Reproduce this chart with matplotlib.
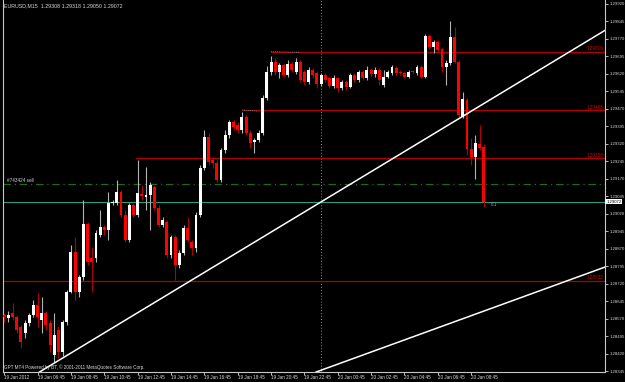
import numpy as np
import matplotlib.pyplot as plt

plt.rcParams['font.family'] = ['Liberation Sans', 'DejaVu Sans']

# EURUSD M15 candles, 19 Jan 04:45 -> 20 Jan 09:30
opens = [1.28586, 1.28573, 1.28594, 1.28577, 1.28534, 1.28508, 1.28551, 1.28586, 1.28629, 1.28564,
         1.28594, 1.28551, 1.28414, 1.28521, 1.28427, 1.28556, 1.28684, 1.28856, 1.28684, 1.28749,
         1.28976, 1.28830, 1.28830, 1.28929, 1.28963, 1.28950, 1.29066, 1.29066, 1.29113, 1.29015,
         1.28907, 1.29058, 1.29015, 1.29105, 1.29092, 1.29100, 1.29135, 1.29045, 1.28972, 1.28985,
         1.28843, 1.28920, 1.28800, 1.28852, 1.28959, 1.28899, 1.28873, 1.29015, 1.29216, 1.29349,
         1.29251, 1.29238, 1.29165, 1.29294, 1.29358, 1.29414, 1.29401, 1.29379, 1.29435, 1.29366,
         1.29328, 1.29336, 1.29366, 1.29517, 1.29628, 1.29671, 1.29628, 1.29658, 1.29615, 1.29662,
         1.29628, 1.29671, 1.29628, 1.29585, 1.29637, 1.29624, 1.29577, 1.29615, 1.29602, 1.29568,
         1.29602, 1.29559, 1.29585, 1.29564, 1.29615, 1.29594, 1.29628, 1.29602, 1.29637, 1.29620,
         1.29637, 1.29572, 1.29607, 1.29624, 1.29645, 1.29628, 1.29624, 1.29607, 1.29632, 1.29624,
         1.29650, 1.29607, 1.29783, 1.29735, 1.29757, 1.29727, 1.29650, 1.29667, 1.29778, 1.29671,
         1.29435, 1.29508, 1.29298, 1.29264, 1.29319, 1.29308]
highs = [1.28594, 1.28603, 1.28637, 1.28586, 1.28543, 1.28564, 1.28594, 1.28650, 1.28680, 1.28663,
         1.28603, 1.28564, 1.28594, 1.28539, 1.28564, 1.28693, 1.28886, 1.28920, 1.28757, 1.29079,
         1.28985, 1.28877, 1.28950, 1.29036, 1.28972, 1.29113, 1.29079, 1.29165, 1.29122, 1.29036,
         1.29066, 1.29066, 1.29251, 1.29143, 1.29221, 1.29156, 1.29143, 1.29058, 1.29006, 1.28993,
         1.28929, 1.28929, 1.28865, 1.28972, 1.29006, 1.28907, 1.29028, 1.29229, 1.29379, 1.29366,
         1.29264, 1.29251, 1.29302, 1.29379, 1.29422, 1.29422, 1.29414, 1.29457, 1.29444, 1.29379,
         1.29345, 1.29379, 1.29529, 1.29654, 1.29697, 1.29688, 1.29667, 1.29667, 1.29680, 1.29671,
         1.29688, 1.29680, 1.29637, 1.29650, 1.29645, 1.29632, 1.29624, 1.29624, 1.29607, 1.29615,
         1.29607, 1.29594, 1.29594, 1.29624, 1.29624, 1.29637, 1.29637, 1.29654, 1.29645, 1.29650,
         1.29645, 1.29637, 1.29637, 1.29658, 1.29654, 1.29637, 1.29632, 1.29637, 1.29637, 1.29658,
         1.29658, 1.29791, 1.29791, 1.29765, 1.29765, 1.29735, 1.29680, 1.29847, 1.29821, 1.29680,
         1.29542, 1.29517, 1.29345, 1.29358, 1.29401, 1.29318]
lows = [1.28556, 1.28556, 1.28564, 1.28508, 1.28444, 1.28487, 1.28539, 1.28577, 1.28534, 1.28508,
        1.28521, 1.28427, 1.28384, 1.28401, 1.28410, 1.28543, 1.28680, 1.28650, 1.28663, 1.28736,
        1.28800, 1.28684, 1.28813, 1.28920, 1.28929, 1.28907, 1.29058, 1.29058, 1.29006, 1.28899,
        1.28899, 1.29006, 1.29006, 1.29079, 1.29036, 1.28950, 1.29036, 1.28963, 1.28963, 1.28830,
        1.28830, 1.28736, 1.28787, 1.28843, 1.28899, 1.28843, 1.28856, 1.29006, 1.29208, 1.29229,
        1.29216, 1.29156, 1.29156, 1.29281, 1.29345, 1.29379, 1.29366, 1.29366, 1.29358, 1.29302,
        1.29281, 1.29328, 1.29358, 1.29508, 1.29615, 1.29615, 1.29602, 1.29607, 1.29607, 1.29628,
        1.29620, 1.29585, 1.29572, 1.29577, 1.29602, 1.29559, 1.29568, 1.29585, 1.29559, 1.29559,
        1.29542, 1.29551, 1.29551, 1.29559, 1.29585, 1.29585, 1.29594, 1.29594, 1.29607, 1.29607,
        1.29572, 1.29564, 1.29602, 1.29615, 1.29615, 1.29615, 1.29602, 1.29602, 1.29620, 1.29615,
        1.29602, 1.29602, 1.29727, 1.29710, 1.29714, 1.29628, 1.29572, 1.29658, 1.29667, 1.29435,
        1.29431, 1.29272, 1.29229, 1.29169, 1.29294, 1.29050]
closes = [1.28577, 1.28586, 1.28577, 1.28521, 1.28470, 1.28551, 1.28586, 1.28629, 1.28577, 1.28594,
          1.28543, 1.28457, 1.28500, 1.28427, 1.28556, 1.28684, 1.28856, 1.28684, 1.28749, 1.28976,
          1.28813, 1.28813, 1.28937, 1.28963, 1.28950, 1.29066, 1.29070, 1.29113, 1.29015, 1.28907,
          1.29058, 1.29015, 1.29109, 1.29096, 1.29100, 1.29143, 1.29045, 1.28972, 1.28993, 1.28843,
          1.28920, 1.28800, 1.28852, 1.28959, 1.28907, 1.28873, 1.29015, 1.29216, 1.29349, 1.29242,
          1.29238, 1.29165, 1.29294, 1.29358, 1.29414, 1.29392, 1.29379, 1.29435, 1.29366, 1.29324,
          1.29336, 1.29366, 1.29517, 1.29628, 1.29671, 1.29628, 1.29658, 1.29615, 1.29662, 1.29637,
          1.29671, 1.29594, 1.29585, 1.29637, 1.29615, 1.29577, 1.29615, 1.29594, 1.29568, 1.29602,
          1.29559, 1.29585, 1.29564, 1.29615, 1.29594, 1.29628, 1.29602, 1.29637, 1.29620, 1.29637,
          1.29594, 1.29607, 1.29628, 1.29650, 1.29624, 1.29622, 1.29607, 1.29628, 1.29628, 1.29650,
          1.29607, 1.29783, 1.29735, 1.29757, 1.29723, 1.29650, 1.29667, 1.29778, 1.29671, 1.29444,
          1.29512, 1.29298, 1.29264, 1.29324, 1.29302, 1.29072]

# horizontal levels (price, first bar)
levels = [1.29716, 1.29465, 1.29258, 1.28732]
level_start = [64, 57, 31.6, -1]
sell_price = 1.29148
bid = 1.29072

# trend lines: two anchor points each (bar, price)
trend1 = [(21.6, 1.28483), (71.2, 1.29019)]
trend2 = [(95.9, 1.28478), (133.6, 1.28723)]

price_ticks = [1.29920, 1.29845, 1.29770, 1.29695, 1.29620, 1.29545, 1.29470, 1.29395, 1.29320,
               1.29245, 1.29170, 1.29095, 1.29020, 1.28945, 1.28870, 1.28795, 1.28720, 1.28645,
               1.28570, 1.28495, 1.28420, 1.28345]
time_ticks = [0, 8, 16, 24, 32, 40, 48, 56, 64, 72, 80, 88, 96, 104, 112]
time_labels = ["19 Jan 2012", "19 Jan 06:45", "19 Jan 08:45", "19 Jan 10:45", "19 Jan 12:45",
               "19 Jan 14:45", "19 Jan 16:45", "19 Jan 18:45", "19 Jan 20:45", "19 Jan 22:45",
               "20 Jan 00:45", "20 Jan 02:45", "20 Jan 04:45", "20 Jan 06:45", "20 Jan 08:45"]

fs = 3.3
grey = '#d8d8d8'

fig = plt.figure(figsize=(6.25, 3.82), dpi=100, facecolor='black')
ax = fig.add_axes([3/625, 10/382, 602/625, 372/382], facecolor='black')

o = np.array(opens); h = np.array(highs); l = np.array(lows); c = np.array(closes)
x = np.arange(len(o))
up = c >= o
body = np.maximum(np.abs(c - o), 0.00003)
ax.vlines(x[up], l[up], h[up], color='#b4b4b4', lw=0.8, zorder=3)
ax.vlines(x[~up], l[~up], h[~up], color='#b00000', lw=0.8, zorder=3)
ax.bar(x[up], body[up], bottom=np.minimum(o, c)[up], width=0.7, color='white', lw=0, zorder=4)
ax.bar(x[~up], body[~up], bottom=np.minimum(o, c)[~up], width=0.7, color='#ff0000', lw=0, zorder=4)

for lv, st in zip(levels, level_start):
    ax.plot([st, 150], [lv, lv], color='#b00000', lw=0.9, zorder=2)
    ax.text(143.7, lv + 0.00002, f"{lv:.5f}", color='#e00000', fontsize=fs, ha='right', va='bottom')
ax.plot([57, 61], [1.29465, 1.29460], color='#909090', lw=0.6, ls=(0, (1, 1.5)))
ax.plot([64, 71], [1.29716, 1.29712], color='#909090', lw=0.6, ls=(0, (1, 1.5)))

ax.axhline(sell_price, color='#1d6a1d', lw=0.9, ls=(0, (6, 3, 1, 3)), zorder=2)
ax.text(0.6, sell_price + 0.00003, "#743424 sell", color=grey, fontsize=fs, va='bottom')
ax.axhline(bid, color='#2a9e80', lw=0.8, zorder=2)
ax.text(116.6, bid - 0.00002, "6:1", color='#a0a0a0', fontsize=fs, va='top')

ax.axline(*trend1, color='white', lw=1.1, zorder=5)
ax.axline(*trend2, color='white', lw=1.1, zorder=5)
ax.axvline(76, color='#909090', lw=0.7, ls=(0, (1, 2)), zorder=1)

ax.set_xlim(-0.3, 144.1)
ax.set_ylim(1.28341, 1.29937)

for side in ['left', 'bottom', 'right']:
    ax.spines[side].set_color('#c8c8c8')
    ax.spines[side].set_linewidth(0.8)
ax.spines['top'].set_visible(False)

ax.yaxis.tick_right()
ax.set_yticks(price_ticks)
ax.set_yticklabels([f"{p:.5f}" for p in price_ticks])
ax.tick_params(axis='y', colors=grey, labelsize=3.1, length=2.5, width=0.6, pad=0.6)
ax.set_xticks(time_ticks)
ax.set_xticklabels(time_labels)
ax.tick_params(axis='x', colors=grey, labelsize=fs, length=2, width=0.6, pad=0.4)
plt.setp(ax.get_xticklabels(), ha='left')

ax.text(1.002, bid, f"{bid:.5f}", transform=ax.get_yaxis_transform(), fontsize=3.1,
        color='black', ha='left', va='center', clip_on=False,
        bbox=dict(boxstyle='square,pad=0.2', fc='white', ec='none'))

fig.text(4/625, 1 - 6/382, "EURUSD,M15  1.29308 1.29318 1.29050 1.29072", color=grey,
         fontsize=3.8, va='center')
fig.text(4/625, 1 - 367/382, "GPT MT4 Powered by BT, © 2001-2011 MetaQuotes Software Corp.",
         color=grey, fontsize=fs, va='center')

fig.savefig('out.png', dpi=100, facecolor='black')
